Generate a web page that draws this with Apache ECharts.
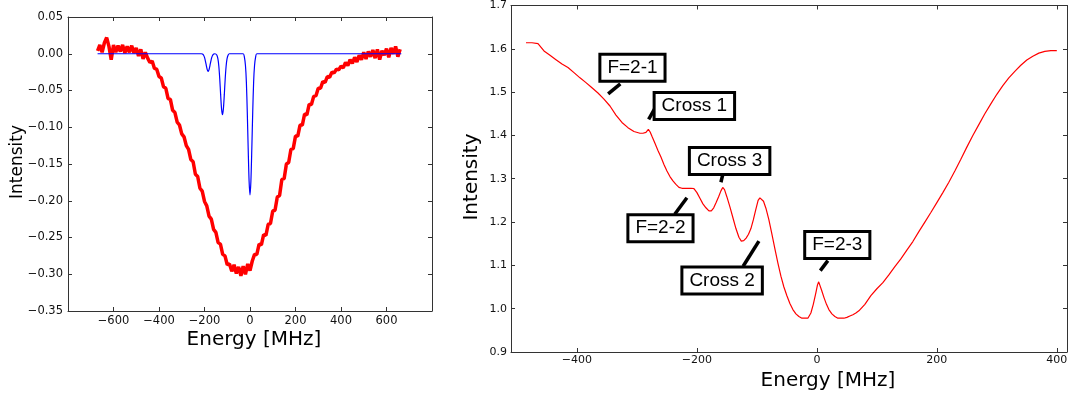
<!DOCTYPE html>
<html>
<head>
<meta charset="utf-8">
<script src="https://cdn.jsdelivr.net/npm/echarts@6/dist/echarts.min.js"></script>
<style>
html,body{margin:0;padding:0;background:#fff;}
#chart{width:1074px;height:398px;}
</style>
</head>
<body>
<div id="chart"></div>
<script>
// ---------- Left panel data ----------
const leftEnergy = [-670,-660,-650,-640,-630,-620,-610,-600,-590,-580,-570,-560,-550,-540,-530,-520,-510,-500,-490,-480,
-470,-460,-450,-440,-430,-420,-410,-400,-390,-380,-370,-360,-350,-340,-330,-320,-310,-300,-290,-280,
-270,-260,-250,-240,-230,-220,-210,-200,-190,-180,-170,-160,-150,-140,-130,-120,-110,-100,-90,-80,
-70,-60,-50,-40,-30,-20,-10,0,10,20,30,40,50,60,70,80,90,100,110,120,
130,140,150,160,170,180,190,200,210,220,230,240,250,260,270,280,290,300,310,320,
330,340,350,360,370,380,390,400,410,420,430,440,450,460,470,480,490,500,510,520,
530,540,550,560,570,580,590,600,610,620,630,640,650,660];
const leftMeasured = [0.004,0.012,0.002,0.015,0.022,0.010,-0.008,0.012,0.002,0.011,0.003,0.012,0.001,0.010,0.002,0.011,0.001,0.008,-0.003,0.006,
-0.007,0.002,-0.006,-0.012,-0.010,-0.020,-0.021,-0.031,-0.033,-0.045,-0.047,-0.061,-0.062,-0.077,-0.080,-0.093,-0.097,-0.109,-0.113,-0.125,
-0.130,-0.144,-0.147,-0.164,-0.167,-0.183,-0.187,-0.201,-0.207,-0.221,-0.225,-0.239,-0.243,-0.257,-0.259,-0.273,-0.275,-0.287,-0.286,-0.296,
-0.287,-0.299,-0.290,-0.302,-0.289,-0.300,-0.286,-0.295,-0.282,-0.273,-0.273,-0.259,-0.260,-0.246,-0.247,-0.232,-0.231,-0.214,-0.213,-0.195,
-0.193,-0.171,-0.170,-0.150,-0.148,-0.130,-0.129,-0.112,-0.112,-0.097,-0.097,-0.082,-0.083,-0.069,-0.069,-0.058,-0.057,-0.047,-0.047,-0.038,
-0.039,-0.031,-0.032,-0.025,-0.026,-0.021,-0.022,-0.017,-0.019,-0.012,-0.016,-0.008,-0.013,-0.005,-0.011,-0.002,-0.008,0.002,-0.007,0.003,
-0.004,0.005,-0.006,0.006,-0.008,0.004,-0.002,0.007,-0.005,0.008,0.000,0.010,-0.004,0.006];
const leftFitEnergy = [-670,-214,-209,-204,-200,-196,-192,-188,-184,-180,-176,-172,-168,-164,-159,-154,
-151,-146,-141,-137,-133,-129,-125,-121,-117,-113,-109,-105,-101,-96,-91,
-30,-25,-20,-16,-12,-8,-4,0,4,8,12,16,20,25,30,665];
const leftFit = [0,0,-0.0005,-0.002,-0.005,-0.010,-0.016,-0.0216,-0.024,-0.0216,-0.016,-0.010,-0.005,-0.002,-0.0005,0,
0,-0.0017,-0.007,-0.017,-0.034,-0.056,-0.075,-0.083,-0.075,-0.056,-0.034,-0.017,-0.007,-0.0017,0,
0,-0.004,-0.016,-0.038,-0.079,-0.129,-0.173,-0.192,-0.173,-0.129,-0.079,-0.038,-0.016,-0.004,0,0];
const leftXTicks = [-600,-400,-200,0,200,400,600];

// ---------- Right panel data ----------
const rightEnergy = [-485,-475,-465,-455,-445,-435,-425,-415,-405,-395,-385,-375,-365,-355,-345,-335,-325,-315,-305,-295,
-290,-285,-281,-278,-275,-270,-265,-260,-255,-250,-245,-240,-235,-230,-225,-220,-215,-210,-205,-200,
-195,-190,-185,-180,-176,-172,-168,-164,-160,-157,-154,-150,-145,-140,-135,-130,-126,-122,-118,-114,
-110,-106,-102,-98,-95,-92,-89,-85,-80,-75,-70,-65,-60,-55,-50,-45,-40,-35,-30,-25,
-20,-15,-10,-6,-2,1,3,5,8,12,16,20,25,30,35,40,45,50,55,60,
65,70,80,90,100,110,120,130,140,150,160,170,180,190,200,210,220,230,240,250,
260,270,280,290,300,310,320,330,340,350,360,370,380,390,400];
const rightIntensity = [1.614,1.614,1.612,1.595,1.585,1.575,1.565,1.557,1.545,1.533,1.522,1.510,1.498,1.484,1.468,1.447,1.430,1.418,1.409,1.405,
1.405,1.407,1.414,1.408,1.398,1.382,1.365,1.350,1.333,1.318,1.305,1.295,1.287,1.280,1.278,1.278,1.278,1.278,1.277,1.268,
1.255,1.242,1.233,1.226,1.226,1.233,1.245,1.258,1.272,1.280,1.275,1.258,1.235,1.210,1.185,1.165,1.156,1.157,1.163,1.172,
1.185,1.205,1.228,1.250,1.256,1.254,1.248,1.232,1.205,1.172,1.138,1.105,1.075,1.050,1.030,1.012,0.998,0.988,0.982,0.978,
0.978,0.978,0.990,1.010,1.035,1.055,1.062,1.058,1.042,1.025,1.010,0.998,0.988,0.982,0.978,0.978,0.978,0.980,0.983,0.986,
0.990,0.995,1.010,1.030,1.046,1.060,1.078,1.097,1.115,1.135,1.155,1.178,1.200,1.222,1.245,1.268,1.292,1.318,1.345,1.373,
1.400,1.425,1.450,1.473,1.495,1.515,1.533,1.548,1.562,1.574,1.583,1.590,1.594,1.596,1.596];
const rightXTicks = [-400,-200,0,200,400];

// annotations (data coordinates of the right panel)
const annLabels = ['F=2-1','Cross 1','Cross 3','F=2-2','Cross 2','F=2-3'];
const annBox = [[-307.5,1.556],[-204.3,1.468],[-145.5,1.341],[-260.8,1.186],[-158,1.065],[34,1.147]];
const annFrom = [[-348,1.496],[-280.5,1.437],[-160,1.292],[-237,1.218],[-123,1.098],[5.7,1.088]];
const annTo = [[-327.7,1.519],[-267.7,1.468],[-157,1.309],[-216.7,1.256],[-96.7,1.156],[18.3,1.111]];

const zip = (a,b) => a.map((v,i)=>[v,b[i]]);
const minus = s => String(s).replace('-', '\u2212');
const FONT = 'DejaVu Sans';
const FRAME = '#333';

function xAx(grid, min, max, interval, ticks, fs, pos, show, margin){
  const o = {
    type:'value', gridIndex:grid, min:min, max:max, position:pos,
    axisLine:{show:true, onZero:false, lineStyle:{color:FRAME,width:1}},
    axisTick:{show:true, inside:true, length:4, lineStyle:{color:FRAME}},
    splitLine:{show:false},
    axisLabel:{show:show, fontFamily:FONT, fontSize:fs, color:'#111', margin:margin,
      showMinLabel:false, showMaxLabel:false,
      formatter: v => ticks.indexOf(Math.round(v))>=0 && Math.abs(v-Math.round(v))<1e-6 ? minus(Math.round(v)) : ''}
  };
  if (interval) o.interval = interval; else o.splitNumber = 5;
  return o;
}
function yAx(grid, min, max, interval, digits, fs, pos, show, margin){
  return {
    type:'value', gridIndex:grid, min:min, max:max, interval:interval, position:pos,
    axisLine:{show:true, onZero:false, lineStyle:{color:FRAME,width:1}},
    axisTick:{show:true, inside:true, length:4, lineStyle:{color:FRAME}},
    splitLine:{show:false},
    axisLabel:{show:show, fontFamily:FONT, fontSize:fs, color:'#111', margin:margin,
      formatter: v => minus((Math.abs(v)<1e-9?0:v).toFixed(digits))}
  };
}

const chart = echarts.init(document.getElementById('chart'), null, {renderer:'canvas'});
const option = {
  animation:false,
  backgroundColor:'#fff',
  grid:[
    {left:68, top:17, width:364, height:294},
    {left:511, top:3, width:556, height:349}
  ],
  xAxis:[
    xAx(0,-800,800,200,leftXTicks,11.5,'bottom',true,4),
    xAx(0,-800,800,200,leftXTicks,11.5,'top',false,4),
    xAx(1,-510,417,null,rightXTicks,11,'bottom',true,3),
    xAx(1,-510,417,null,rightXTicks,11,'top',false,3)
  ],
  yAxis:[
    yAx(0,-0.35,0.05,0.05,2,11.5,'left',true,5),
    yAx(0,-0.35,0.05,0.05,2,11.5,'right',false,5),
    yAx(1,0.9,1.7,0.1,1,11,'left',true,4),
    yAx(1,0.9,1.7,0.1,1,11,'right',false,4)
  ],
  series:[
    {type:'line', xAxisIndex:0, yAxisIndex:0, data:zip(leftEnergy,leftMeasured), showSymbol:false, symbol:'none',
     lineStyle:{color:'#ff0000', width:3.5}, z:2},
    {type:'line', xAxisIndex:0, yAxisIndex:0, data:zip(leftFitEnergy,leftFit), showSymbol:false, symbol:'none',
     smooth:0.3, lineStyle:{color:'#0000ff', width:1.2}, z:3},
    {type:'line', xAxisIndex:2, yAxisIndex:2, data:zip(rightEnergy,rightIntensity), showSymbol:false, symbol:'none',
     lineStyle:{color:'#ff0000', width:1.2}, z:2}
  ],
  graphic:[
    {type:'text', x:254, y:340, style:{text:'Energy [MHz]', font:'20px "DejaVu Sans"', fill:'#000', align:'center', verticalAlign:'middle'}},
    {type:'text', x:18, y:162, rotation:Math.PI/2, style:{text:'Intensity', font:'17px "DejaVu Sans"', fill:'#000', align:'center', verticalAlign:'middle'}},
    {type:'text', x:828, y:381, style:{text:'Energy [MHz]', font:'20px "DejaVu Sans"', fill:'#000', align:'center', verticalAlign:'middle'}},
    {type:'text', x:472, y:177, rotation:Math.PI/2, style:{text:'Intensity', font:'20px "DejaVu Sans"', fill:'#000', align:'center', verticalAlign:'middle'}}
  ]
};
chart.setOption(option);

// annotations placed from data coordinates
const ann = [];
annLabels.forEach((t,i)=>{
  const a = chart.convertToPixel({xAxisIndex:2, yAxisIndex:2}, annFrom[i]);
  const b = chart.convertToPixel({xAxisIndex:2, yAxisIndex:2}, annTo[i]);
  const c = chart.convertToPixel({xAxisIndex:2, yAxisIndex:2}, annBox[i]);
  ann.push({type:'line', z:50, shape:{x1:a[0],y1:a[1],x2:b[0],y2:b[1]}, style:{stroke:'#000', lineWidth:3.5}});
  ann.push({type:'text', z:60, x:c[0], y:c[1], style:{text:t, font:'19px "Liberation Sans", Arial, sans-serif', fill:'#000',
    align:'center', verticalAlign:'middle', backgroundColor:'#fff', borderColor:'#000', borderWidth:3, padding:[3,6,2,6]}});
});
chart.setOption({graphic: option.graphic.concat(ann)});
</script>
</body>
</html>
